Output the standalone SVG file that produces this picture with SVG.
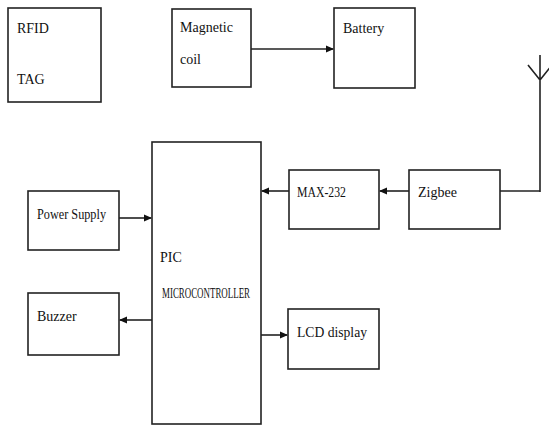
<svg xmlns="http://www.w3.org/2000/svg" width="549" height="427" viewBox="0 0 549 427">
<style>
.box{fill:#fff;stroke:#222;stroke-width:1.6}
.t{font-family:"Liberation Serif","Times New Roman",serif;font-size:14px;fill:#111}
.c{fill:none;stroke:#222;stroke-width:1.6}
</style>
<defs>
<marker id="ah" viewBox="0 0 8 8" refX="7" refY="4" markerWidth="8" markerHeight="8" markerUnits="userSpaceOnUse" orient="auto">
<path d="M0,0.5 L8,4 L0,7.5 Z" fill="#111"/>
</marker>
</defs>
<rect width="549" height="427" fill="#fff"/>
<g id="rfid"><rect class="box" x="8" y="8" width="93" height="94"/><text class="t" x="17" y="33">RFID</text><text class="t" x="17" y="84">TAG</text></g>
<g id="coil"><rect class="box" x="172" y="9" width="79" height="78"/><text class="t" x="180" y="32">Magnetic</text><text class="t" x="180" y="64">coil</text></g>
<g id="battery"><rect class="box" x="334" y="8" width="81" height="80"/><text class="t" x="343" y="33">Battery</text></g>
<g id="pic"><rect class="box" x="152" y="142" width="109" height="282"/><text class="t" x="160" y="262" font-size="13">PIC</text><text class="t" x="162" y="298" font-size="11" textLength="88" lengthAdjust="spacingAndGlyphs">MICROCONTROLLER</text></g>
<g id="power"><rect class="box" x="28" y="191" width="91" height="59"/><text class="t" x="37" y="219" textLength="69" lengthAdjust="spacingAndGlyphs">Power Supply</text></g>
<g id="buzzer"><rect class="box" x="28" y="293" width="91" height="62"/><text class="t" x="37" y="321">Buzzer</text></g>
<g id="max232"><rect class="box" x="289" y="170" width="90" height="59"/><text class="t" x="297" y="197" textLength="49" lengthAdjust="spacingAndGlyphs">MAX-232</text></g>
<g id="zigbee"><rect class="box" x="409" y="170" width="91" height="59"/><text class="t" x="418" y="197">Zigbee</text></g>
<g id="lcd"><rect class="box" x="288" y="309" width="91" height="60"/><text class="t" x="297" y="337" textLength="70" lengthAdjust="spacingAndGlyphs">LCD display</text></g>
<g id="antenna"><path class="c" d="M540,55 V192 M528,65 L540,80 L552,65"/></g>
<g id="connectors">
<path class="c" d="M251,49 H333" marker-end="url(#ah)"/>
<path class="c" d="M500,191 H540"/>
<path class="c" d="M409,191 H380" marker-end="url(#ah)"/>
<path class="c" d="M289,191 H262" marker-end="url(#ah)"/>
<path class="c" d="M119,218 H151" marker-end="url(#ah)"/>
<path class="c" d="M152,320 H120" marker-end="url(#ah)"/>
<path class="c" d="M261,335 H287" marker-end="url(#ah)"/>
</g>
</svg>
